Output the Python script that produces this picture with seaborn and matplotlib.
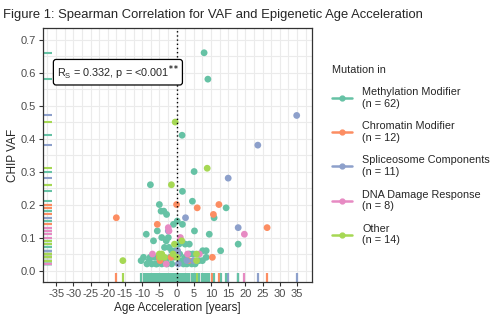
import numpy as np
import pandas as pd
import matplotlib
matplotlib.use("Agg")
import matplotlib.pyplot as plt
from matplotlib.lines import Line2D
import seaborn as sns

groups = ["Methylation Modifier", "Chromatin Modifier", "Spliceosome Components",
          "DNA Damage Response", "Other"]
counts = [62, 12, 11, 8, 14]
colors = ["#66C2A5", "#FC8D62", "#8DA0CB", "#E78AC3", "#A6D854"]

meth_x = [8.0, 9.1, 1.6, 5.1, -7.6, 1.7, 4.6, -5.0, 14.4, -4.5, -3.7, -2.9, 10.9, 0.2,
          -0.9, 1.7, 5.2, -5.6, -8.8, 9.5, -4.3, -2.4, -6.7, -3.0, 0.7, 2.5, 3.7, 17.9,
          12.8, 7.6, 8.6, -1.4, -0.4, 8.6, -9.6, -10.3, -7.7, -6.4, -1.9, -0.9, 2.5, 4.7,
          -8.6, -7.2, -5.7, -4.3, -2.8, -1.4, 2.0, 3.0, 4.4, 5.4, -2.2, -3.5, 3.7, 6.5,
          7.5, -8.0, -3.2, 1.5, -6.0, 0.9]
meth_y = [0.66, 0.58, 0.41, 0.30, 0.26, 0.24, 0.21, 0.20, 0.19, 0.18, 0.18, 0.17, 0.16, 0.15,
          0.14, 0.14, 0.12, 0.12, 0.11, 0.11, 0.10, 0.10, 0.09, 0.09, 0.08, 0.08, 0.08, 0.08,
          0.06, 0.06, 0.06, 0.06, 0.06, 0.04, 0.04, 0.03, 0.04, 0.04, 0.04, 0.04, 0.04, 0.05,
          0.02, 0.02, 0.02, 0.02, 0.02, 0.02, 0.02, 0.02, 0.02, 0.02, 0.07, 0.07, 0.05, 0.03,
          0.03, 0.03, 0.03, 0.03, 0.02, 0.05]
chrom_x = [-17.5, 0.0, 12.3, 6.0, 10.7, -5.6, 26.3, 10.4, -4.8, -1.6, -5.0, 3.5]
chrom_y = [0.16, 0.20, 0.20, 0.19, 0.17, 0.14, 0.13, 0.04, 0.03, 0.04, 0.04, 0.03]
splice_x = [34.9, 23.6, 15.0, 2.6, -2.4, 17.9, 3.0, 0.5, 0.3, 4.9, 0.3]
splice_y = [0.47, 0.38, 0.28, 0.16, 0.12, 0.13, 0.03, 0.02, 0.05, 0.03, 0.06]
dna_x = [-2.4, 1.1, 19.7, -7.0, 6.6, -2.2, -3.0, 3.2]
dna_y = [0.13, 0.10, 0.11, 0.05, 0.05, 0.12, 0.02, 0.05]
other_x = [-0.4, 8.9, -1.5, 1.5, -0.6, -15.6, -5.0, -4.3, -4.8, -3.5, 5.8, 5.8, 0.1, -1.0]
other_y = [0.45, 0.31, 0.26, 0.09, 0.08, 0.03, 0.05, 0.05, 0.04, 0.04, 0.05, 0.03, 0.04, 0.05]

xs = [meth_x, chrom_x, splice_x, dna_x, other_x]
ys = [meth_y, chrom_y, splice_y, dna_y, other_y]
df = pd.concat([pd.DataFrame({"age": x, "vaf": y, "group": g})
                for x, y, g in zip(xs, ys, groups)], ignore_index=True)

sns.set_theme(style="whitegrid")
plt.rcParams["font.family"] = ["Liberation Sans", "DejaVu Sans"]
plt.rcParams["mathtext.fontset"] = "custom"
plt.rcParams["mathtext.rm"] = "Liberation Sans"
plt.rcParams["mathtext.it"] = "Liberation Sans"

fig = plt.figure(figsize=(5.0, 3.22), dpi=100)
ax = fig.add_axes([0.086, 0.124, 0.537, 0.789])
pal = dict(zip(groups, colors))

ax.set_xticks(np.arange(-35, 36, 5))
ax.set_xticks(np.arange(-37.5, 38, 2.5), minor=True)
ax.set_yticks(np.arange(0, 0.71, 0.1))
ax.set_yticks(np.arange(0, 0.75, 0.05), minor=True)
ax.grid(True, which="both", color="#EBEBEB", linewidth=0.8)
ax.set_axisbelow(True)

# x rug: small groups first, the large Methylation group on top
for g in groups[1:] + groups[:1]:
    sub = df[df["group"] == g]
    sns.rugplot(data=sub, x="age", color=pal[g], height=0.035, linewidth=1.6,
                alpha=1, ax=ax)
# y rug: group order
for g in groups:
    sub = df[df["group"] == g]
    sns.rugplot(data=sub, y="vaf", color=pal[g], height=0.035, linewidth=1.5,
                alpha=1, ax=ax)
sns.scatterplot(data=df, x="age", y="vaf", hue="group", palette=pal, s=24,
                edgecolor="none", ax=ax, legend=False, zorder=3)
ax.axvline(0, color="black", linestyle=(0, (1, 2)), linewidth=1.0, zorder=4)

ax.set_xlim(-38.8, 39.2)
ax.set_ylim(-0.035, 0.735)
ax.set_xticklabels([str(v) for v in range(-35, 36, 5)])
ax.set_yticklabels([f"{v:.1f}" for v in np.arange(0, 0.71, 0.1)])
ax.tick_params(axis="both", which="major", length=3, width=0.8, color="#333333",
               labelsize=8, labelcolor="#4D4D4D", pad=2, bottom=True, left=True)
ax.tick_params(which="minor", length=0)
for s in ax.spines.values():
    s.set_color("#333333")
    s.set_linewidth(0.9)
ax.set_xlabel("Age Acceleration [years]", fontsize=8.5, labelpad=2)
ax.set_ylabel("CHIP VAF", fontsize=8.5, labelpad=1)

ax.text(0.279, 0.826, r"R$_\mathrm{S}$ = 0.332, p = <0.001$^{\mathbf{**}}$", transform=ax.transAxes,
        fontsize=7.8, ha="center", va="center", zorder=5,
        bbox=dict(boxstyle="round,pad=0.32,rounding_size=0.25", fc="white", ec="black", lw=0.9))

fig.text(0.006, 0.953, "Figure 1: Spearman Correlation for VAF and Epigenetic Age Acceleration",
         fontsize=9.4, ha="left", va="center")

handles = [Line2D([0], [0], color=c, lw=1.8, marker="o", markersize=3.5) for c in colors]
labels = [f"{g}\n(n = {n})" for g, n in zip(groups, counts)]
leg = fig.legend(handles, labels, loc="upper left", bbox_to_anchor=(0.655, 0.812),
                 frameon=False, title="Mutation in", fontsize=7.8, title_fontsize=7.8,
                 handlelength=1.9, handletextpad=0.9, labelspacing=1.15, borderaxespad=0)
leg._legend_box.align = "left"

fig.savefig("out.png", dpi=100)
